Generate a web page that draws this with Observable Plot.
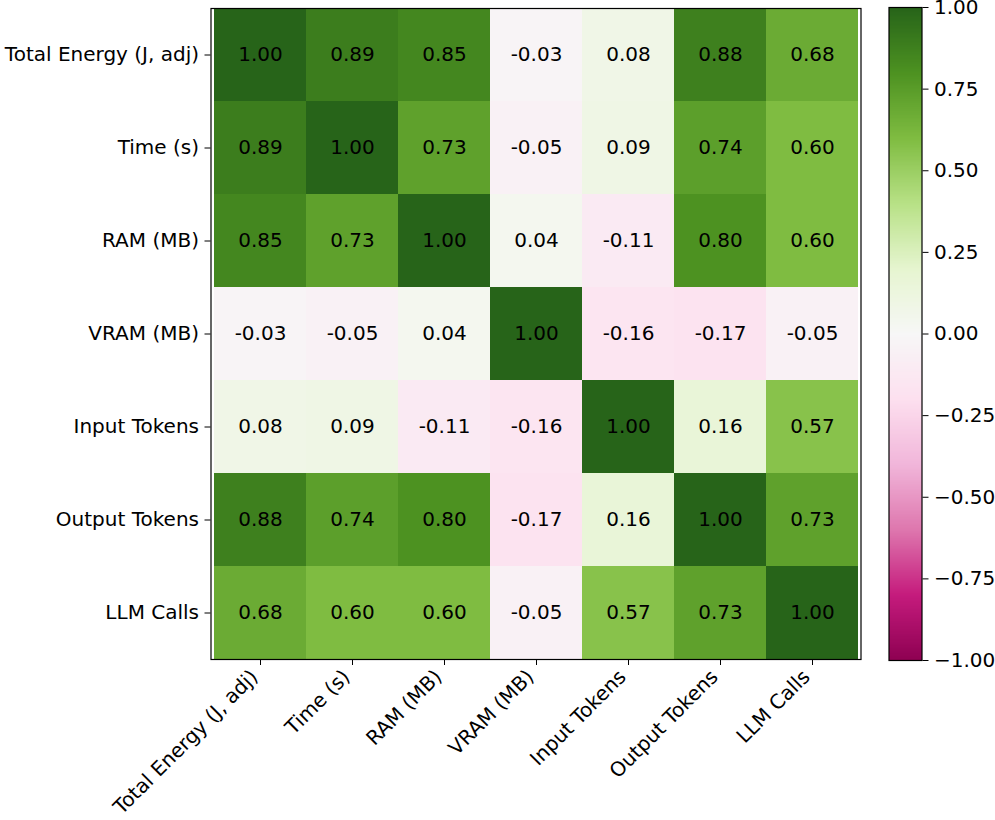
<!DOCTYPE html>
<html><head><meta charset="utf-8">
<script src="https://cdn.jsdelivr.net/npm/d3@7"></script>
<script src="https://cdn.jsdelivr.net/npm/@observablehq/plot@0.6"></script>
<style>
body{margin:0;background:#fff;}
#wrap{position:relative;width:995px;height:820px;}
#wrap svg{position:absolute;left:0;top:0;}
</style>
</head><body><div id="wrap"></div>
<script>
const variables = ["Total Energy (J, adj)","Time (s)","RAM (MB)","VRAM (MB)","Input Tokens","Output Tokens","LLM Calls"];
const rowTotalEnergy = [1.00, 0.89, 0.85, -0.03, 0.08, 0.88, 0.68];
const rowTime        = [0.89, 1.00, 0.73, -0.05, 0.09, 0.74, 0.60];
const rowRAM         = [0.85, 0.73, 1.00, 0.04, -0.11, 0.80, 0.60];
const rowVRAM        = [-0.03, -0.05, 0.04, 1.00, -0.16, -0.17, -0.05];
const rowInput       = [0.08, 0.09, -0.11, -0.16, 1.00, 0.16, 0.57];
const rowOutput      = [0.88, 0.74, 0.80, -0.17, 0.16, 1.00, 0.73];
const rowLLM         = [0.68, 0.60, 0.60, -0.05, 0.57, 0.73, 1.00];
const rows = [rowTotalEnergy, rowTime, rowRAM, rowVRAM, rowInput, rowOutput, rowLLM];

const colorbarTicks = [-1, -0.75, -0.5, -0.25, 0, 0.25, 0.5, 0.75, 1];
const piygColors = ["#8e0152","#c51b7d","#de77ae","#f1b6da","#fde0ef","#f7f7f7","#e6f5d0","#b8e186","#7fbc41","#4d9221","#276419"];
const piygStops = piygColors.map((c, i) => -1 + i * 0.2);

const data = [];
rows.forEach((r, i) => r.forEach((v, j) => data.push({row: variables[i], col: variables[j], value: v})));

const colorScale = {type: "linear", domain: piygStops, range: piygColors, interpolate: "rgb", clamp: true};
const font = {fontFamily: "DejaVu Sans", fontSize: "20px", color: "black", background: "transparent"};

const main = Plot.plot({
  width: 995, height: 820,
  marginLeft: 210.5, marginRight: 134.5, marginTop: 8, marginBottom: 161,
  style: font,
  x: {domain: variables, padding: 0, label: null},
  y: {domain: variables, padding: 0, label: null, tickSize: 6, tickPadding: 6},
  color: colorScale,
  marks: [
    Plot.cell(data, {x: "col", y: "row", fill: "value"}),
    Plot.text(data, {x: "col", y: "row", text: d => d.value.toFixed(2), fill: "black", fontSize: 20}),
    Plot.axisX({tickSize: 6, tickFormat: () => "", label: null}),
    Plot.axisX({tickSize: 0, tickRotate: -45, tickPadding: 10, dx: -6, dy: 4, label: null}),
    Plot.frame({stroke: "black", strokeWidth: 1.2})
  ]
});

const bar = Plot.plot({
  width: 995, height: 820,
  marginLeft: 888.5, marginRight: 73.5, marginTop: 7, marginBottom: 160,
  style: font,
  x: {domain: [0, 1], axis: null},
  y: {domain: [-1, 1], axis: "right", ticks: colorbarTicks, tickFormat: d3.format(".2f"), label: null, tickSize: 6, tickPadding: 6},
  color: colorScale,
  marks: [
    Plot.raster({x1: 0, x2: 1, y1: -1, y2: 1, width: 1, height: 500, fill: (x, y) => y, imageRendering: "auto"}),
    Plot.frame({stroke: "black", strokeWidth: 1.2})
  ]
});
bar.style.pointerEvents = "none";
const wrap = document.getElementById("wrap");
wrap.appendChild(main);
wrap.appendChild(bar);
</script>
</body></html>
